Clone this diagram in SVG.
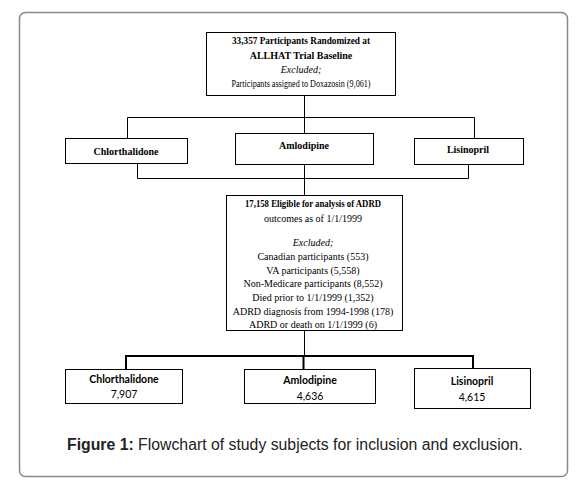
<svg xmlns="http://www.w3.org/2000/svg" width="587" height="481" viewBox="0 0 587 481">
<style>
.box{fill:#fff;stroke:#000;stroke-width:1}
.ln{fill:none;stroke:#000;stroke-width:1}
.tr{font-family:"Liberation Serif",serif;font-size:10px;fill:#000;text-anchor:middle}
.b{font-weight:bold}
.i{font-style:italic}
.cal{font-family:Lato,"Liberation Sans",sans-serif;font-size:10.5px;fill:#000;text-anchor:middle}
.cap{font-family:"Liberation Sans",Arial,sans-serif;font-size:15.8px;fill:#222}
</style>
<rect x="19.5" y="12.5" width="548" height="464" rx="6" fill="#fff" stroke="#888" stroke-width="1.5"/>
<g id="connectors">
<path class="ln" d="M304.5 95V133M127.5 138V117.5H474.5V138"/>
<path class="ln" d="M137.5 163V178.5H468.5V164M304.5 164V195"/>
<path class="ln" d="M304.5 331V356"/>
<path fill="none" stroke="#000" stroke-width="2" d="M126 369V356H473V368M303.5 356V369"/>
</g>
<g id="n_randomized">
<rect class="box" x="206.5" y="32.5" width="189" height="63"/>
<text class="tr b" x="301" y="44" textLength="138" lengthAdjust="spacingAndGlyphs">33,357 Participants Randomized at</text>
<text class="tr b" x="301" y="59">ALLHAT Trial Baseline</text>
<text class="tr i" x="301" y="73">Excluded;</text>
<text class="tr" x="301" y="87" textLength="139" lengthAdjust="spacingAndGlyphs">Participants assigned to Doxazosin (9,061)</text>
</g>
<g id="n_chlor1">
<rect class="box" x="65.5" y="138.5" width="122" height="25"/>
<text class="tr b" x="126" y="155">Chlorthalidone</text>
</g>
<g id="n_amlo1">
<rect class="box" x="235.5" y="133.5" width="138" height="31"/>
<text class="tr b" x="304" y="149">Amlodipine</text>
</g>
<g id="n_lisin1">
<rect class="box" x="414.5" y="138.5" width="109" height="26"/>
<text class="tr b" x="468" y="153">Lisinopril</text>
</g>
<g id="n_eligible">
<rect class="box" x="226.5" y="195.5" width="176" height="135"/>
<text class="tr b" x="313" y="207" textLength="136" lengthAdjust="spacingAndGlyphs">17,158 Eligible for analysis of ADRD</text>
<text class="tr" x="313" y="222">outcomes as of 1/1/1999</text>
<text class="tr i" x="313" y="246">Excluded;</text>
<text class="tr" x="313" y="260">Canadian participants (553)</text>
<text class="tr" x="313" y="274">VA participants (5,558)</text>
<text class="tr" x="313" y="287">Non-Medicare participants (8,552)</text>
<text class="tr" x="313" y="301">Died prior to 1/1/1999 (1,352)</text>
<text class="tr" x="313" y="315">ADRD diagnosis from 1994-1998 (178)</text>
<text class="tr" x="313" y="328">ADRD or death on 1/1/1999 (6)</text>
</g>
<g id="n_chlor2">
<rect class="box" x="65.5" y="369.5" width="117" height="34"/>
<text class="cal b" x="124" y="383">Chlorthalidone</text>
<text class="cal" x="124" y="398">7,907</text>
</g>
<g id="n_amlo2">
<rect class="box" x="244.5" y="369.5" width="131" height="34"/>
<text class="cal b" x="310" y="384">Amlodipine</text>
<text class="cal" x="310" y="400">4,636</text>
</g>
<g id="n_lisin2">
<rect class="box" x="414.5" y="368.5" width="116" height="40"/>
<text class="cal b" x="472" y="385">Lisinopril</text>
<text class="cal" x="472" y="401">4,615</text>
</g>
<text class="cap" x="67" y="450"><tspan font-weight="bold">Figure 1:</tspan> Flowchart of study subjects for inclusion and exclusion.</text>
</svg>
